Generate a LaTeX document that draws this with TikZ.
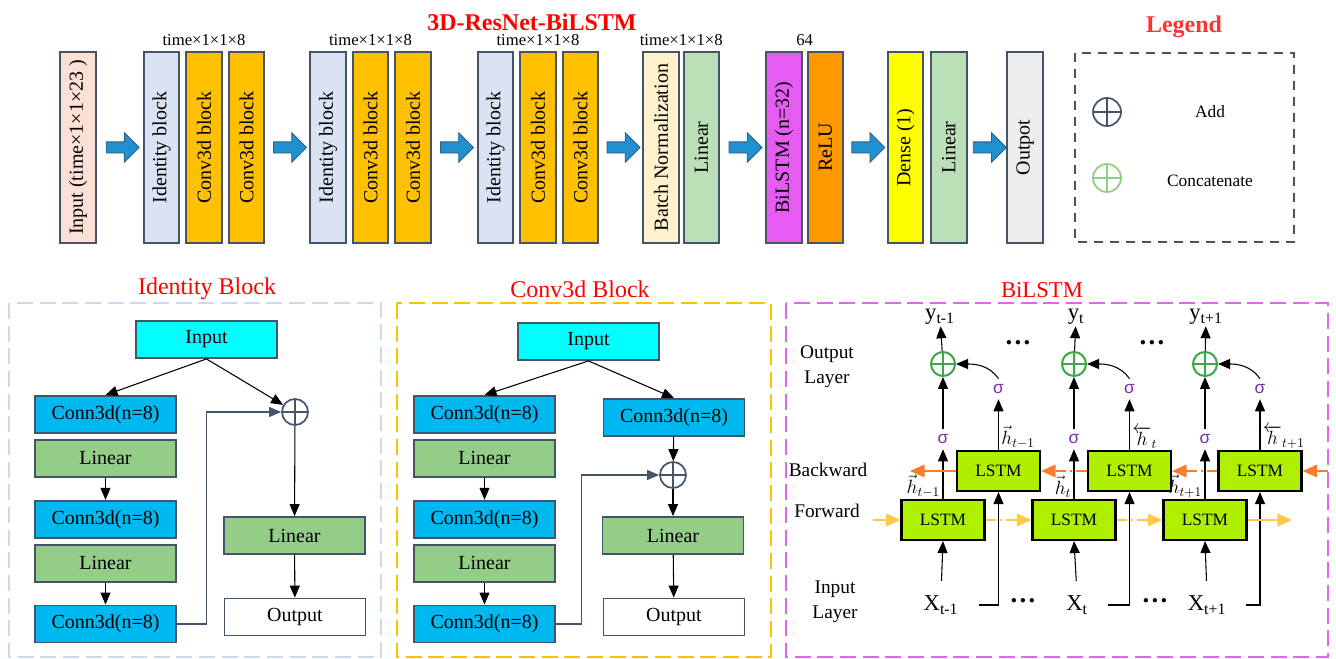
\documentclass[tikz,border=0pt]{standalone}
\usepackage{fontspec}
\setmainfont{Liberation Serif}
\newfontfamily\sigmafont{Liberation Sans}
\usetikzlibrary{positioning,calc,arrows.meta,shapes.arrows}

\definecolor{slate}{HTML}{44546A}
\definecolor{inpink}{HTML}{FBE0D5}
\definecolor{idblue}{HTML}{DAE3F3}
\definecolor{convgold}{HTML}{FFC000}
\definecolor{bncream}{HTML}{FFF2CC}
\definecolor{lingreen}{HTML}{BBDFB6}
\definecolor{bimag}{HTML}{E65CF2}
\definecolor{reluorg}{HTML}{FF9900}
\definecolor{dnsyel}{HTML}{FFFF00}
\definecolor{outgray}{HTML}{EDEDED}
\definecolor{arrblue}{HTML}{2190D0}
\definecolor{arredge}{HTML}{2F5F80}
\definecolor{connblue}{HTML}{00B8F0}
\definecolor{linkgreen}{HTML}{93CD88}
\definecolor{incyan}{HTML}{00FFFF}
\definecolor{lstmlime}{HTML}{AEF000}
\definecolor{fwyel}{HTML}{FFC84A}
\definecolor{bworg}{HTML}{F87E2F}
\definecolor{sigpurp}{HTML}{7B2FA8}
\definecolor{addgreen}{HTML}{3AA845}
\definecolor{catgreen}{HTML}{8DD07F}
\definecolor{idframe}{HTML}{C9DBEE}
\definecolor{biframe}{HTML}{E066F0}
\definecolor{legred}{HTML}{FF3333}

\newcommand\vlab[1]{\rotatebox{90}{#1}}

\begin{document}
\begin{tikzpicture}[
  x=0.75pt, y=-0.75pt,
  layer/.style={draw=slate, line width=1.5pt, minimum width=26.6pt, minimum height=143.25pt,
    inner sep=0pt, font=\fontsize{15}{18}\selectfont},
  blockarrow/.style={single arrow, draw=arredge, fill=arrblue, line width=0.6pt,
    minimum height=24.75pt, minimum width=0pt, inner xsep=0pt, inner ysep=3.9pt,
    single arrow head extend=6.9pt},
  dimlab/.style={font=\fontsize{12.5}{14}\selectfont, inner sep=1pt},
  title/.style={font=\fontsize{18}{20}\selectfont, text=red},
  blk/.style={draw=slate, line width=1.4pt, minimum width=105.75pt, minimum height=27.75pt,
    inner sep=0pt, font=\fontsize{15}{18}\selectfont},
  conn/.style={blk, fill=connblue},
  lin/.style={blk, fill=linkgreen},
  inp/.style={blk, fill=incyan},
  outp/.style={blk, fill=white},
  addop/.style={circle, draw=#1, line width=1.3pt, minimum size=19.5pt, inner sep=0pt,
    path picture={\draw[#1, line width=1.3pt] (path picture bounding box.north) -- (path picture bounding box.south)
      (path picture bounding box.west) -- (path picture bounding box.east);}},
  arr/.style={line width=0.8pt, -{Triangle[length=9pt,width=7.5pt]}},
  skip/.style={arr, draw=slate},
  lstm/.style={draw=black, line width=1.6pt, fill=lstmlime, minimum width=62.25pt, minimum height=30pt,
    inner sep=0pt, font=\fontsize{13}{15}\selectfont},
  sig/.style={font=\sigmafont\fontsize{13}{15}\selectfont, text=sigpurp, inner sep=4pt},
  hlab/.style={font=\fontsize{14}{16}\selectfont, inner sep=0pt},
  ylab/.style={font=\fontsize{17}{20}\selectfont, inner sep=1pt},
  sidelab/.style={font=\fontsize{14.5}{18.75}\selectfont, align=center},
  dots/.style={font=\bfseries\fontsize{20}{22}\selectfont},
  fwd/.style={draw=fwyel, line width=1.2pt, -{Triangle[length=11pt,width=9.5pt]}},
  bwd/.style={draw=bworg, line width=1.2pt, -{Triangle[length=11pt,width=9.5pt]}},
  dd/.style={dash pattern=on 8pt off 3pt on 1.5pt off 3pt},
]
\useasboundingbox (0,0) rectangle (1336,659);

% top row
\node[title, font=\bfseries\fontsize{18}{20}\selectfont] (ttl) at (532,22) {3D-ResNet-BiLSTM};
\node[layer, fill=inpink, minimum width=27pt] (in) at (78,147.5) {\vlab{Input (time×1×1×23 )}};
\node[layer, fill=idblue] (id1) at (161.5,147.5) {\vlab{Identity block}};
\node[layer, fill=convgold, right=3.75pt of id1] (cv1a) {\vlab{Conv3d block}};
\node[layer, fill=convgold, right=3.75pt of cv1a] (cv1b) {\vlab{Conv3d block}};
\node[layer, fill=idblue] (id2) at (328,147.5) {\vlab{Identity block}};
\node[layer, fill=convgold, right=3.75pt of id2] (cv2a) {\vlab{Conv3d block}};
\node[layer, fill=convgold, right=3.75pt of cv2a] (cv2b) {\vlab{Conv3d block}};
\node[layer, fill=idblue] (id3) at (495.5,147.5) {\vlab{Identity block}};
\node[layer, fill=convgold, right=3.75pt of id3] (cv3a) {\vlab{Conv3d block}};
\node[layer, fill=convgold, right=3.75pt of cv3a] (cv3b) {\vlab{Conv3d block}};
\node[layer, fill=bncream] (bn) at (661,147.5) {\vlab{Batch Normalization}};
\node[layer, fill=lingreen, right=2.25pt of bn] (lin1) {\vlab{Linear}};
\node[layer, fill=bimag] (bil) at (784,147.5) {\vlab{BiLSTM (n=32)}};
\node[layer, fill=reluorg, right=3pt of bil] (relu) {\vlab{ReLU}};
\node[layer, fill=dnsyel] (dns) at (905.5,147.5) {\vlab{Dense (1)}};
\node[layer, fill=lingreen, right=4.5pt of dns] (lin2) {\vlab{Linear}};
\node[layer, fill=outgray] (outp) at (1025,147.5) {\vlab{Outpot}};

\path (id1.north west) -- node[dimlab, above=3pt] (dm1) {time×1×1×8} (cv1b.north east);
\path (id2.north west) -- node[dimlab, above=3pt] (dm2) {time×1×1×8} (cv2b.north east);
\path (id3.north west) -- node[dimlab, above=3pt] (dm3) {time×1×1×8} (cv3b.north east);
\path (bn.north west) -- node[dimlab, above=3pt] (dm4) {time×1×1×8} (lin1.north east);
\path (bil.north west) -- node[dimlab, above=3pt] (dm5) {64} (relu.north east);

\node[blockarrow] (ar1) at ($(in.east)!0.5!(id1.west)$) {};
\node[blockarrow] (ar2) at ($(cv1b.east)!0.5!(id2.west)$) {};
\node[blockarrow] (ar3) at ($(cv2b.east)!0.5!(id3.west)$) {};
\node[blockarrow] (ar4) at ($(cv3b.east)!0.5!(bn.west)$) {};
\node[blockarrow] (ar5) at ($(lin1.east)!0.5!(bil.west)$) {};
\node[blockarrow] (ar6) at ($(relu.east)!0.5!(dns.west)$) {};
\node[blockarrow] (ar7) at ($(lin2.east)!0.5!(outp.west)$) {};

% legend
\node[font=\bfseries\fontsize{18}{20}\selectfont, text=legred] (lgt) at (1184,27) {Legend};
\draw[slate, line width=1.4pt, dash pattern=on 7pt off 5pt] (1075,53) rectangle (1294,242);
\node[addop=slate, minimum size=21pt] (lgAdd) at (1107,112) {};
\node[font=\fontsize{13}{15}\selectfont] (lgAddT) at (1210,112) {Add};
\node[addop=catgreen, minimum size=21pt] (lgCat) at (1107,178) {};
\node[font=\fontsize{13}{15}\selectfont] (lgCatT) at (1210,181) {Concatenate};

% identity block
\node[title] (tId) at (207,289) {Identity Block};
\draw[idframe, line width=1.5pt, dash pattern=on 12pt off 5pt] (9,303) rectangle (381,657);
\node[inp] (iIn) at (206.5,339.5) {Input};
\node[conn] (iC1) at (105.5,414.5) {Conn3d(n=8)};
\node[lin, below=3.75pt of iC1] (iL1) {Linear};
\node[conn, below=16.5pt of iL1] (iC2) {Conn3d(n=8)};
\node[lin, below=3.75pt of iC2] (iL2) {Linear};
\node[conn, below=16.5pt of iL2] (iC3) {Conn3d(n=8)};
\node[addop=slate] (iAdd) at (295,412) {};
\node[lin] (iLr) at (294.5,535.5) {Linear};
\node[outp] (iOut) at (295,617) {Output};
\draw[arr] (iIn.south) -- (iC1.north);
\draw[arr] (iIn.south) -- (iAdd);
\draw[arr] (iL1) -- (iC2);
\draw[arr] (iL2) -- (iC3);
\draw[skip] (iC3.east) -- ++(30,0) |- (iAdd.west);
\draw[arr] (iAdd) -- (iLr);
\draw[arr] (iLr) -- (iOut);

% conv3d block
\node[title] (tCv) at (580,289) {Conv3d Block};
\draw[convgold, line width=1.5pt, dash pattern=on 12pt off 5pt] (397,303) rectangle (771,657);
\node[inp] (cIn) at (588.5,341.5) {Input};
\node[conn] (cC1) at (484.5,414.5) {Conn3d(n=8)};
\node[lin, below=3.75pt of cC1] (cL1) {Linear};
\node[conn, below=16.5pt of cL1] (cC2) {Conn3d(n=8)};
\node[lin, below=3.75pt of cC2] (cL2) {Linear};
\node[conn, below=16.5pt of cL2] (cC3) {Conn3d(n=8)};
\node[conn] (cCr) at (674,417.5) {Conn3d(n=8)};
\node[addop=slate] (cAdd) at (673,475) {};
\node[lin] (cLr) at (673,535.5) {Linear};
\node[outp] (cOut) at (674,617) {Output};
\draw[arr] (cIn.south) -- (cC1.north);
\draw[arr] (cIn.south) -- (cCr.north);
\draw[arr] (cL1) -- (cC2);
\draw[arr] (cL2) -- (cC3);
\draw[arr] (cCr) -- (cAdd);
\draw[skip] (cC3.east) -- ++(26,0) |- (cAdd.west);
\draw[arr] (cAdd) -- (cLr);
\draw[arr] (cLr) -- (cOut);

% bilstm
\node[title, font=\fontsize{17}{20}\selectfont] (tBi) at (1042,290) {BiLSTM};
\draw[biframe, line width=1.5pt, dash pattern=on 12pt off 5pt] (786,303) rectangle (1328,657);
\node[sidelab] (lOut) at (827,367) {Output\\Layer};
\node[sidelab] (lBw) at (828,470) {Backward};
\node[sidelab] (lFw) at (827,511) {Forward};
\node[sidelab] (lIn) at (835,602) {Input\\Layer};

\node[lstm] (f1) at (943,520) {LSTM};
\node[lstm] (f2) at (1074,520) {LSTM};
\node[lstm] (f3) at (1205,520) {LSTM};
\node[lstm] (b1) at (998.5,471) {LSTM};
\node[lstm] (b2) at (1129.5,471) {LSTM};
\node[lstm] (b3) at (1260,471) {LSTM};

\node[sig] (sf1) at (943,439) {σ};
\node[sig] (sf2) at (1074,439) {σ};
\node[sig] (sf3) at (1205,439) {σ};
\node[sig] (sb1) at (998.5,389) {σ};
\node[sig] (sb2) at (1129.5,389) {σ};
\node[sig] (sb3) at (1260,389) {σ};

\node[addop=addgreen, minimum size=18pt, line width=1.5pt] (o1) at (943,364) {};
\node[addop=addgreen, minimum size=18pt, line width=1.5pt] (o2) at (1074,364) {};
\node[addop=addgreen, minimum size=18pt, line width=1.5pt] (o3) at (1205,364) {};

\node[ylab] (y1) at (940,317) {y\textsubscript{t-1}};
\node[ylab] (y2) at (1076,317) {y\textsubscript{t}};
\node[ylab] (y3) at (1206,317) {y\textsubscript{t+1}};
\node[ylab] (x1) at (941,605) {X\textsubscript{t-1}};
\node[ylab] (x2) at (1077,605) {X\textsubscript{t}};
\node[ylab] (x3) at (1207,605) {X\textsubscript{t+1}};

\node[dots] (d1) at (1018,343) {…};
\node[dots] (d2) at (1152,343) {…};
\node[dots] (d3) at (1023,601) {…};
\node[dots] (d4) at (1155,601) {…};

\node[hlab, above left=1pt and 2pt of f1.north] (hf1) {$\vec{h}_{t-1}$};
\node[hlab, above left=1pt and 2pt of f2.north] (hf2) {$\vec{h}_{t}$};
\node[hlab, above left=1pt and 2pt of f3.north] (hf3) {$\vec{h}_{t+1}$};
\node[hlab, above right=1pt and 2pt of b1.north] (hb1) {$\vec{h}_{t-1}$};
\node[hlab, above right=1pt and 2pt of b2.north] (hb2) {$\overleftarrow{h}_{t}$};
\node[hlab, above right=1pt and 2pt of b3.north] (hb3) {$\overleftarrow{h}_{t+1}$};

% connectors
\draw[arr, shorten <=10pt] (x1.north) -- (f1.south);
\draw[arr, shorten <=10pt] (x2.north) -- (f2.south);
\draw[arr, shorten <=10pt] (x3.north) -- (f3.south);
\draw[arr] ([xshift=14pt]x1.east) -| (b1.south);
\draw[arr] ([xshift=14pt]x2.east) -| (b2.south);
\draw[arr] ([xshift=14pt]x3.east) -| (b3.south);
\draw[arr] (f1.north) -- (sf1);
\draw[arr] (f2.north) -- (sf2);
\draw[arr] (f3.north) -- (sf3);
\draw[arr] (sf1) -- (o1);
\draw[arr] (sf2) -- (o2);
\draw[arr] (sf3) -- (o3);
\draw[arr] (b1.north) -- (sb1);
\draw[arr] (b2.north) -- (sb2);
\draw[arr] (b3.north) -- (sb3);
\draw[arr] (sb1.north) to[out=125,in=0] (o1.east);
\draw[arr] (sb2.north) to[out=125,in=0] (o2.east);
\draw[arr] (sb3.north) to[out=125,in=0] (o3.east);
\draw[arr] (o1) -- (y1);
\draw[arr] (o2) -- (y2);
\draw[arr] (o3) -- (y3);

\coordinate (fin) at (873,520);
\coordinate (fout) at (1292,520);
\coordinate (bin) at (1328,471);
\coordinate (bout) at (910,471);
\draw[fwd] (fin) -- (f1.west);
\draw[fwd, dd] (f1.east) -- (f2.west);
\draw[fwd, dd] (f2.east) -- (f3.west);
\draw[fwd] (f3.east) -- (fout);
\draw[bwd] (bin) -- (b3.east);
\draw[bwd, dd] (b3.west) -- (b2.east);
\draw[bwd, dd] (b2.west) -- (b1.east);
\draw[bwd] (b1.west) -- (bout);
\end{tikzpicture}
\end{document}
